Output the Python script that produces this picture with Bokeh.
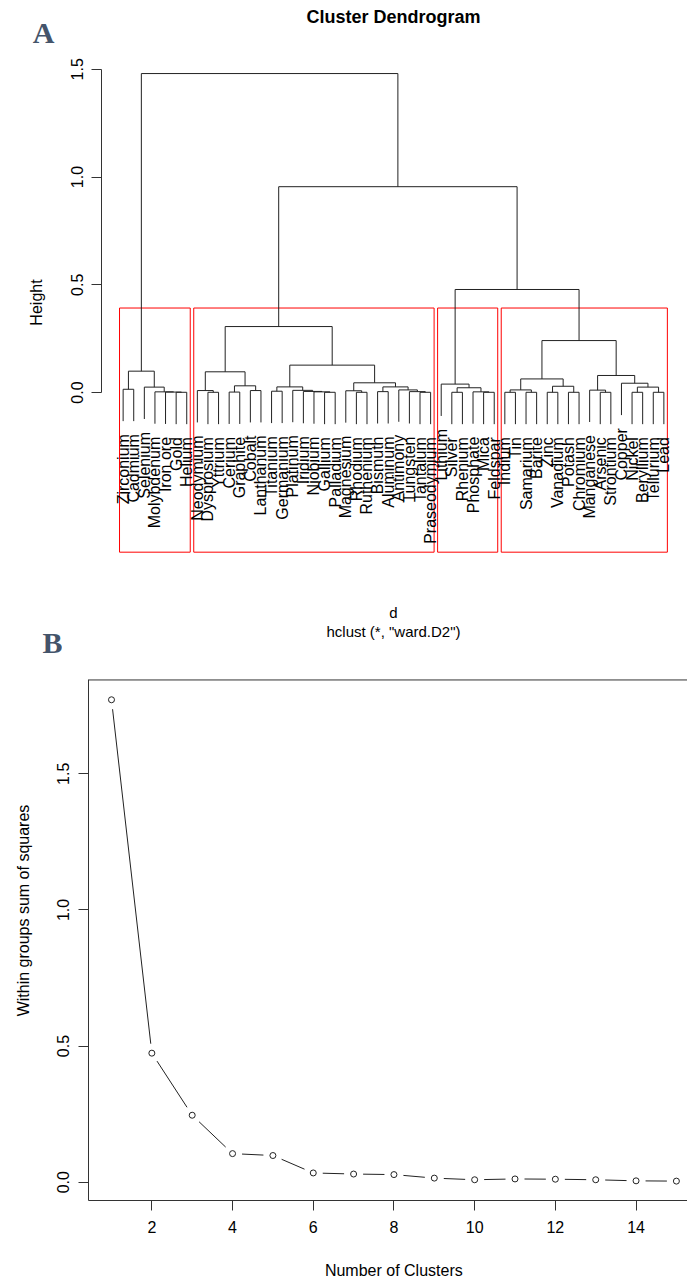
import math
from bokeh.plotting import figure
from bokeh.models import Range1d, FixedTicker, PrintfTickFormatter, Span
from bokeh.layouts import column, row
from bokeh.embed import file_html
from bokeh.resources import INLINE
from bokeh.core.properties import value

FONT = "Liberation Sans"

# ---------------- data: dendrogram (panel A) ----------------
leaf_labels = [
    "Zirconium", "Cadmium", "Selenium", "Molybdenum", "Iron ore", "Gold", "Helium",
    "Neodymium", "Dysprosium", "Yttrium", "Cerium", "Graphite", "Cobalt", "Lanthanum",
    "Titanium", "Germanium", "Platinum", "Iridium", "Niobium", "Gallium", "Palladium",
    "Magnesium", "Rhodium", "Ruthenium", "Bismuth", "Aluminum", "Antimony", "Tungsten",
    "Tantalum", "Praseodymium",
    "Lithium", "Silver", "Rhenium", "Phosphate", "Mica", "Feldspar",
    "Indium", "Tin", "Samarium", "Barite", "Zinc", "Vanadium", "Potash", "Chromium",
    "Manganese", "Arsenic", "Strontium", "Copper", "Nickel", "Beryllium", "Tellurium", "Lead",
]

merge_id = [
    "a1", "a2", "a3", "a4", "a5", "a6",
    "b1", "b2", "b3", "b4", "b5", "b6", "b7", "b8", "b9", "b10", "b11", "b12",
    "b13", "b14", "b15", "b16", "b17", "b18", "b19", "b20", "b21", "b22",
    "c1", "c2", "c3", "c4", "c5",
    "d1", "d2", "d3", "d4", "d5", "d6", "d7", "d8", "d9", "d10", "d11", "d12", "d13", "d14", "d15",
    "e1", "e2", "e3",
]
merge_left = [
    "Zirconium", "Gold", "Iron ore", "Molybdenum", "Selenium", "a1",
    "Dysprosium", "Neodymium", "Cerium", "Cobalt", "b3", "b2", "Titanium", "Gallium", "Niobium",
    "Iridium", "Platinum", "b7", "Rhodium", "Magnesium", "Bismuth", "Tantalum", "Tungsten",
    "Antimony", "b15", "b14", "b12", "b6",
    "Silver", "Mica", "Phosphate", "c1", "Lithium",
    "Indium", "Samarium", "d1", "Zinc", "Potash", "d4", "d3", "Arsenic", "Manganese",
    "Nickel", "Tellurium", "d10", "Copper", "d9", "d7",
    "c5", "b22", "a6",
]
merge_right = [
    "Cadmium", "Helium", "a2", "a3", "a4", "a5",
    "Yttrium", "b1", "Graphite", "Lanthanum", "b4", "b5", "Germanium", "Palladium", "b8",
    "b9", "b10", "b11", "Ruthenium", "b13", "Aluminum", "Praseodymium", "b16",
    "b17", "b18", "b19", "b20", "b21",
    "Rhenium", "Feldspar", "c2", "c3", "c4",
    "Tin", "Barite", "d2", "Vanadium", "Chromium", "d5", "d6", "Strontium", "d8",
    "Beryllium", "Lead", "d11", "d12", "d13", "d14",
    "d15", "e1", "e2",
]
merge_height = [
    0.015, 0.001, 0.002, 0.003, 0.025, 0.099,
    0.001, 0.009, 0.002, 0.009, 0.031, 0.096, 0.006, 0.001, 0.003,
    0.005, 0.010, 0.026, 0.001, 0.008, 0.004, 0.001, 0.004,
    0.012, 0.026, 0.045, 0.127, 0.306,
    0.001, 0.001, 0.003, 0.022, 0.039,
    0.001, 0.001, 0.012, 0.001, 0.001, 0.029, 0.063, 0.001, 0.011,
    0.001, 0.001, 0.025, 0.043, 0.079, 0.241,
    0.478, 0.955, 1.480,
]
n_clusters_cut = 4
y_ticks_a = [0.0, 0.5, 1.0, 1.5]

# ---------------- data: elbow plot (panel B) ----------------
k_values = [1, 2, 3, 4, 5, 6, 7, 8, 9, 10, 11, 12, 13, 14, 15]
wss_values = [1.772, 0.474, 0.246, 0.105, 0.098, 0.034, 0.030, 0.028,
              0.015, 0.009, 0.012, 0.011, 0.009, 0.005, 0.004]
x_ticks_b = [2, 4, 6, 8, 10, 12, 14]
y_ticks_b = [0.0, 0.5, 1.0, 1.5]

LINE = "#222222"
AXIS = "#333333"
PANEL_LETTER = "#44546A"


def plain(p):
    p.title.visible = False
    p.grid.visible = False
    p.outline_line_color = None
    p.background_fill_color = "white"
    p.border_fill_color = "white"
    if "frame_align" in p.properties():
        p.frame_align = False


def strip(width, height, y_top):
    # text-only strip whose data units equal page pixels
    s = figure(width=width, height=height, output_backend="svg", toolbar_location=None,
               x_range=Range1d(0, width), y_range=Range1d(y_top + height, y_top),
               x_axis_location=None, y_axis_location=None,
               min_border_left=0, min_border_right=0, min_border_top=0, min_border_bottom=0)
    plain(s)
    return s


def style_axis(ax, ticks, standoff):
    ax.ticker = FixedTicker(ticks=ticks)
    ax.axis_line_color = AXIS
    ax.major_tick_line_color = AXIS
    ax.minor_tick_line_color = None
    ax.major_tick_out = 10
    ax.major_tick_in = 0
    ax.major_label_standoff = standoff
    ax.major_label_text_font = FONT
    ax.major_label_text_font_size = "16px"
    ax.major_label_text_color = "black"


def add_text(p, x, y, s, size="16px", angle=0.0, align="center",
             font=FONT, style="normal", color="black"):
    p.text(x=[x], y=[y], text=[s], angle=angle, text_align=align, text_baseline="middle",
           text_font=value(font), text_font_size=size, text_font_style=style, text_color=color)


# ---------------- dendrogram geometry ----------------
pos = {name: i + 1 for i, name in enumerate(leaf_labels)}
node_h = {}
children = {}
hang = 0.1 * (max(merge_height) - min(merge_height))
leaf_end = {}
hx0, hx1, hy = [], [], []
vx, vy0, vy1 = [], [], []
for mid, l, r, h in zip(merge_id, merge_left, merge_right, merge_height):
    for c in (l, r):
        if c in node_h:
            bottom = node_h[c]
        else:
            bottom = h - hang
            leaf_end[c] = bottom
        vx.append(pos[c]); vy0.append(h); vy1.append(bottom)
    hx0.append(pos[l]); hx1.append(pos[r]); hy.append(h)
    pos[mid] = (pos[l] + pos[r]) / 2.0
    node_h[mid] = h
    children[mid] = (l, r)

hs = sorted(merge_height, reverse=True)
cut_h = (hs[n_clusters_cut - 2] + hs[n_clusters_cut - 1]) / 2.0


def leaves_of(node):
    if node not in children:
        return [node]
    l, r = children[node]
    return leaves_of(l) + leaves_of(r)


clusters = []


def find_clusters(node):
    if node in children and node_h[node] > cut_h:
        for c in children[node]:
            find_clusters(c)
    else:
        clusters.append(leaves_of(node))


find_clusters(merge_id[-1])

# ---------------- panel A (row: side strip + dendrogram) ----------------
H_A = 662
SIDE_A = 62
n = len(leaf_labels)
xa0, xa1 = 1 - 0.04 * (n - 1), n + 0.04 * (n - 1)
usr_bottom = -0.741          # bottom of R's plot region
sya = 215.5                  # px per height unit
zero_px = 392.0              # page y of height 0
ya1 = zero_px / sya
ya0 = ya1 - H_A / sya
WA = 687 - SIDE_A
LA, RA = 101 - SIDE_A, 2


def a_y(py):
    return (zero_px - py) / sya


pA = figure(width=WA, height=H_A, output_backend="svg", toolbar_location=None,
            x_range=Range1d(xa0, xa1), y_range=Range1d(ya0, ya1),
            x_axis_location=None, y_axis_location="left",
            min_border_left=LA, min_border_right=RA, min_border_top=0, min_border_bottom=0)
plain(pA)
ya = pA.yaxis[0]
style_axis(ya, y_ticks_a, 9)
ya.formatter = PrintfTickFormatter(format="%.1f")
ya.bounds = (min(y_ticks_a), max(y_ticks_a))
ya.major_label_orientation = "parallel"

box_l, box_r = [], []
for cl in clusters:
    ps = [pos[c] for c in cl]
    box_l.append(min(ps) - 0.34)
    box_r.append(max(ps) + 0.33)
pA.quad(left=box_l, right=box_r, bottom=[usr_bottom] * len(box_l), top=[cut_h] * len(box_l),
        fill_color=None, line_color="red", line_width=1)

pA.segment(x0=hx0, y0=hy, x1=hx1, y1=hy, line_color=LINE, line_width=1)
pA.segment(x0=vx, y0=vy0, x1=vx, y1=vy1, line_color=LINE, line_width=1)

pA.text(x=[pos[l] for l in leaf_labels], y=[leaf_end[l] - 13.0 / sya for l in leaf_labels],
        text=leaf_labels, angle=math.pi / 2, text_align="right", text_baseline="middle",
        text_font=value(FONT), text_font_size="16px", text_color="black")

xmid = (1 + n) / 2.0
add_text(pA, xmid, a_y(16), "Cluster Dendrogram", size="18px", style="bold")
add_text(pA, xmid, a_y(612), "d", size="15px")
add_text(pA, xmid, a_y(631), 'hclust (*, "ward.D2")', size="15px")

sideA = strip(SIDE_A, H_A, 0)
add_text(sideA, 43, 31.5, "A", size="30px", font="Liberation Serif", style="bold", color=PANEL_LETTER)
add_text(sideA, 52, 641.5, "B", size="30px", font="Liberation Serif", style="bold", color=PANEL_LETTER)
add_text(sideA, 36.2, 302, "Height", angle=math.pi / 2)

# ---------------- panel B (row: side strip + elbow plot) + bottom strip ----------------
BOTTOM_H = 40
H_B = 1282 - H_A - BOTTOM_H
SIDE_B = 48
WB = 687 - SIDE_B
LB, RB, BB = 88 - SIDE_B, 0, 42
xb0, xb1 = 0.43, 15.275
syb = 272.25
yb0 = -0.0672
yb1 = yb0 + (H_B - BB) / syb
box_top = 1.8448
sxb = (WB - LB - RB) / (xb1 - xb0)

pB = figure(width=WB, height=H_B, output_backend="svg", toolbar_location=None,
            x_range=Range1d(xb0, xb1), y_range=Range1d(yb0, yb1),
            min_border_left=LB, min_border_right=RB, min_border_top=0, min_border_bottom=BB)
plain(pB)
style_axis(pB.xaxis[0], x_ticks_b, 10)
style_axis(pB.yaxis[0], y_ticks_b, 9)
pB.yaxis[0].formatter = PrintfTickFormatter(format="%.1f")
pB.yaxis[0].major_label_orientation = "parallel"
pB.yaxis[0].bounds = (yb0, box_top)
pB.add_layout(Span(location=box_top, dimension="width", line_color=AXIS, line_width=1))

gap = 9.5
sx0, sy0, sx1, sy1 = [], [], [], []
for i in range(len(k_values) - 1):
    dxp = (k_values[i + 1] - k_values[i]) * sxb
    dyp = (wss_values[i + 1] - wss_values[i]) * syb
    L = math.hypot(dxp, dyp)
    if L <= 2 * gap:
        continue
    fx, fy = gap / L * dxp / sxb, gap / L * dyp / syb
    sx0.append(k_values[i] + fx); sy0.append(wss_values[i] + fy)
    sx1.append(k_values[i + 1] - fx); sy1.append(wss_values[i + 1] - fy)
pB.segment(x0=sx0, y0=sy0, x1=sx1, y1=sy1, line_color=LINE, line_width=1)
pB.scatter(x=k_values, y=wss_values, marker="circle", size=6, fill_color="white",
           line_color=LINE, line_width=1)

sideB = strip(SIDE_B, H_B, H_A)
add_text(sideB, 23.3, 910, "Within groups sum of squares", angle=math.pi / 2)

bottomB = strip(687, BOTTOM_H, 1282 - BOTTOM_H)
add_text(bottomB, 393.3, 1270, "Number of Clusters")

layout = column(row(sideA, pA, spacing=0), row(sideB, pB, spacing=0), bottomB, spacing=0)
open("out.html", "w").write(file_html(layout, INLINE))
